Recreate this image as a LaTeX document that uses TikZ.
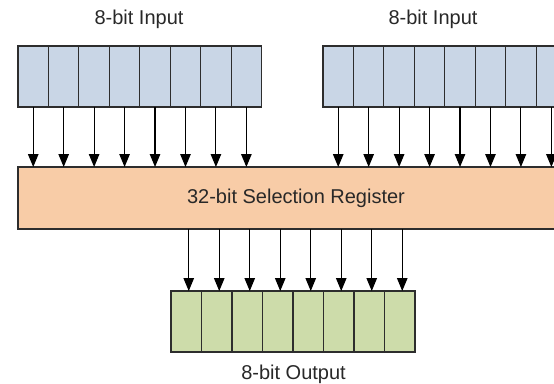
\documentclass[tikz,border=0pt]{standalone}
\usepackage{fontspec}
\setmainfont{Liberation Sans}
\usetikzlibrary{arrows.meta}

\definecolor{inblue}{RGB}{201,214,230}
\definecolor{regpeach}{RGB}{248,204,167}
\definecolor{outgreen}{RGB}{205,220,170}
\definecolor{edge}{RGB}{45,45,45}
\definecolor{txt}{RGB}{40,40,40}

\begin{document}
\begin{tikzpicture}[x=1pt, y=-1pt,
        cell/.style={draw=edge, line width=1.2pt, inner sep=0pt, outer sep=0pt, minimum width=30.5pt, minimum height=61pt},
        arr/.style={-{Triangle[length=13pt, width=10.5pt]}, line width=1.1pt},
        lbl/.style={anchor=base, text=txt, font=\fontsize{20}{24}\selectfont}]
        \useasboundingbox (0,0) rectangle (554,383);
        \clip (0,0) rectangle (554,383);

        % Nodes
        \foreach \i in {1,...,8} {
            \node[cell, fill=inblue] (a\i) at ({18+30.45*(\i-0.5)}, 76.5) {};
            \node[cell, fill=inblue] (b\i) at ({323+30.45*(\i-0.5)}, 76.5) {};
            \node[cell, fill=outgreen] (c\i) at ({171+30.5*(\i-0.5)}, 321.5) {};
        }
        \node[cell, fill=regpeach, minimum width=556pt, minimum height=62pt, text=txt, font=\fontsize{20}{24}\selectfont] (reg) at (296,198) {32-bit Selection Register};

        % Edges
        \foreach \i in {1,...,8} {
            \draw[arr] (a\i.south) -- (a\i.south |- reg.north);
            \draw[arr] (b\i.south) -- (b\i.south |- reg.north);
            \draw[arr] ([xshift=2.5pt]c\i.north |- reg.south) -- ([xshift=2.5pt]c\i.north);
        }

        % Labels
        \node[lbl] (tin1) at (139,24.3) {8-bit Input};
        \node[lbl] (tin2) at (433,24.3) {8-bit Input};
        \node[lbl] (tout) at (293.5,379) {8-bit Output};
    \end{tikzpicture}
\end{document}
